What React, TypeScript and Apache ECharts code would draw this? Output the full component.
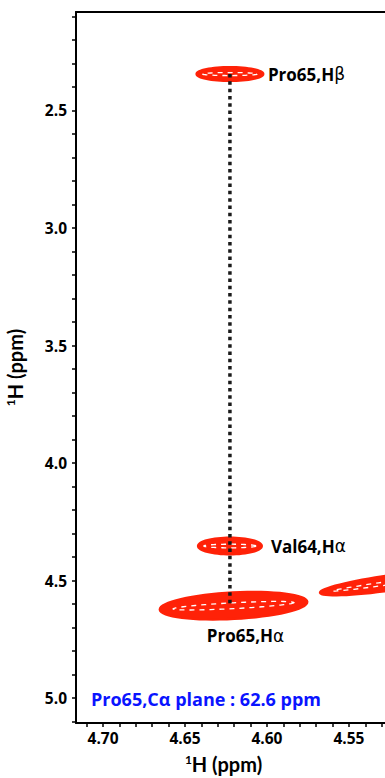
import React, { useEffect, useRef } from "react";
import * as echarts from "echarts";

// Peak list (direct 1H, indirect 1H, half widths in ppm, tilt in degrees)
const peakNames = ["Pro65,H\u03b2", "Val64,H\u03b1", "Pro65,H\u03b1", ""];
const peakDirect = [4.6226, 4.6226, 4.6204, 4.525];
const peakIndirect = [2.345, 4.353, 4.607, 4.51];
const peakHalfWidthDirect = [0.0203, 0.0194, 0.045, 0.043];
const peakHalfWidthIndirect = [0.029, 0.035, 0.056, 0.032];
const peakTilt = [0, 0, -3, -8];

// Sequential walk connector (Pro65 Hβ -> Pro65 Hα)
const walkDirect = [4.6226, 4.6226];
const walkIndirect = [2.345, 4.596];

// Axes
const xRange = [4.528, 4.7165];
const yRange = [2.081, 5.106];
const xTickLabels = [4.55, 4.6, 4.65, 4.7];
const xTicks = [4.53, 4.54, 4.55, 4.56, 4.57, 4.58, 4.59, 4.6, 4.61, 4.62, 4.63, 4.64, 4.65, 4.66, 4.67, 4.68, 4.69, 4.7, 4.71];
const yTickLabels = [2.5, 3.0, 3.5, 4.0, 4.5, 5.0];
const yTicks = [2.1, 2.2, 2.3, 2.4, 2.5, 2.6, 2.7, 2.8, 2.9, 3.0, 3.1, 3.2, 3.3, 3.4, 3.5, 3.6, 3.7, 3.8, 3.9, 4.0, 4.1, 4.2, 4.3, 4.4, 4.5, 4.6, 4.7, 4.8, 4.9, 5.0, 5.1];

const planeNote = "Pro65,C\u03b1 plane : 62.6 ppm";

const FONT = "Open Sans";
const NAME_FONT = "Lato";
const RED = "#ff2208";

export default function App() {
  const ref = useRef<HTMLDivElement>(null);
  useEffect(() => {
    if (!ref.current) return;
    const chart = echarts.init(ref.current, null, { renderer: "svg" });

    const peakData = peakDirect.map((x, i) => [
      x,
      peakIndirect[i],
      peakHalfWidthDirect[i],
      peakHalfWidthIndirect[i],
      peakTilt[i],
    ]);

    const ellipse = (rx: number, ry: number, tiltDeg: number, cx: number, cy: number) => {
      const t = (tiltDeg * Math.PI) / 180;
      const pts: number[][] = [];
      const n = 64;
      for (let k = 0; k < n; k++) {
        const a = (k / n) * Math.PI * 2;
        const ex = rx * Math.cos(a);
        const ey = ry * Math.sin(a);
        pts.push([cx + ex * Math.cos(t) - ey * Math.sin(t), cy + ex * Math.sin(t) + ey * Math.cos(t)]);
      }
      return pts;
    };

    const fmtGreek = (s: string) => s.replace(/([\u03b1\u03b2])/g, "{g|$1}");

    const labelEl = (i: number, c: number[]) => {
      const name = peakNames[i];
      if (!name) return null;
      const below = i === 2;
      return {
        type: "text",
        z2: 50,
        x: below ? c[0] + 12 : c[0] + (i === 0 ? 38 : 41),
        y: below ? c[1] + 30 : c[1],
        style: {
          text: fmtGreek(name),
          align: below ? "center" : "left",
          verticalAlign: "middle",
          fontFamily: FONT,
          fontWeight: "bold",
          fontSize: 17,
          fill: "#000",
          rich: {
            g: { fontFamily: "DejaVu Sans", fontWeight: "normal", fontSize: 17, fill: "#000", color: "#000" },
          },
        },
      };
    };

    chart.setOption({
      animation: false,
      backgroundColor: "#fff",
      grid: { left: 76, top: 12, right: 0, bottom: 55, outerBoundsMode: "none", containLabel: false },
      xAxis: [
        {
          type: "value",
          inverse: true,
          min: xRange[0],
          max: xRange[1],
          position: "bottom",
          name: "{sup|1}H (ppm)",
          nameLocation: "middle",
          nameGap: 30,
          nameTextStyle: {
            fontFamily: NAME_FONT,
            fontWeight: "bold",
            fontSize: 20,
            color: "#000",
            padding: [0, 14, 0, 0],
            rich: { sup: { fontSize: 12, fontWeight: "bold", fontFamily: NAME_FONT, verticalAlign: "top", padding: [0, 0, 10, 0] } },
          },
          splitLine: { show: false },
          axisLine: { show: true, onZero: false, lineStyle: { color: "#000", width: 2 } },
          axisTick: { show: true, inside: false, length: 4, customValues: xTicks, lineStyle: { color: "#000", width: 1.5 } },
          axisLabel: {
            customValues: xTickLabels,
            formatter: (v: number) => v.toFixed(2),
            fontFamily: FONT,
            fontWeight: "bold",
            fontSize: 15.5,
            color: "#000",
            margin: 7,
          },
        },
        {
          type: "value",
          inverse: true,
          min: xRange[0],
          max: xRange[1],
          position: "top",
          splitLine: { show: false },
          axisLine: { show: true, onZero: false, lineStyle: { color: "#000", width: 2 } },
          axisTick: { show: false },
          axisLabel: { show: false },
        },
      ],
      yAxis: {
        type: "value",
        inverse: true,
        min: yRange[0],
        max: yRange[1],
        name: "{sup|1}H (ppm)",
        nameLocation: "middle",
        nameRotate: 90,
        nameGap: 50,
        nameTextStyle: {
          fontFamily: NAME_FONT,
          fontWeight: "bold",
          fontSize: 20,
          color: "#000",
          rich: { sup: { fontSize: 12, fontWeight: "bold", fontFamily: NAME_FONT, verticalAlign: "top", padding: [0, 0, 10, 0] } },
        },
        splitLine: { show: false },
        axisLine: { show: true, onZero: false, lineStyle: { color: "#000", width: 2 } },
        axisTick: { show: true, inside: false, length: 4, customValues: yTicks, lineStyle: { color: "#000", width: 1.5 } },
        axisLabel: {
          customValues: yTickLabels,
          formatter: (v: number) => v.toFixed(1),
          fontFamily: FONT,
          fontWeight: "bold",
          fontSize: 15.5,
          color: "#000",
          margin: 9,
        },
      },
      series: [
        {
          type: "custom",
          clip: true,
          z: 2,
          data: peakData,
          renderItem: (params: any, api: any) => {
            const cx = api.value(0);
            const cy = api.value(1);
            const c = api.coord([cx, cy]);
            const s = api.size([api.value(2), api.value(3)]);
            const rx = Math.abs(s[0]);
            const ry = Math.abs(s[1]);
            const tilt = api.value(4);
            return {
              type: "group",
              children: [
                {
                  type: "polygon",
                  shape: { points: ellipse(rx, ry, tilt, c[0], c[1]) },
                  style: { fill: RED, stroke: RED, lineWidth: 2.5 },
                },
                {
                  type: "polygon",
                  shape: { points: ellipse(rx * 0.82, ry * 0.22, tilt, c[0], c[1]) },
                  style: { fill: "none", stroke: "#fff", lineWidth: 1.3, lineDash: [5, 5] },
                },
              ],
            };
          },
        },
        {
          type: "line",
          z: 3,
          symbol: "none",
          data: walkDirect.map((x, i) => [x, walkIndirect[i]]),
          lineStyle: { color: "#1a1a1a", width: 3.5, type: [3.5, 3.8] },
        },
        {
          type: "custom",
          clip: false,
          z: 4,
          silent: true,
          data: peakDirect.map((x, i) => [x, peakIndirect[i]]),
          renderItem: (params: any, api: any) => {
            const c = api.coord([api.value(0), api.value(1)]);
            const el = labelEl(params.dataIndex, c);
            return el || { type: "group", children: [] };
          },
        },
      ],
      graphic: [
        {
          type: "text",
          left: 91,
          top: 690,
          style: {
            text: planeNote,
            fontFamily: FONT,
            fontWeight: "bold",
            fontSize: 18,
            fill: "#0a14ff",
          },
        },
      ],
    });
    return () => chart.dispose();
  }, []);
  return <div ref={ref} style={{ position: "fixed", left: 0, top: 0, width: 385, height: 778 }} />;
}
